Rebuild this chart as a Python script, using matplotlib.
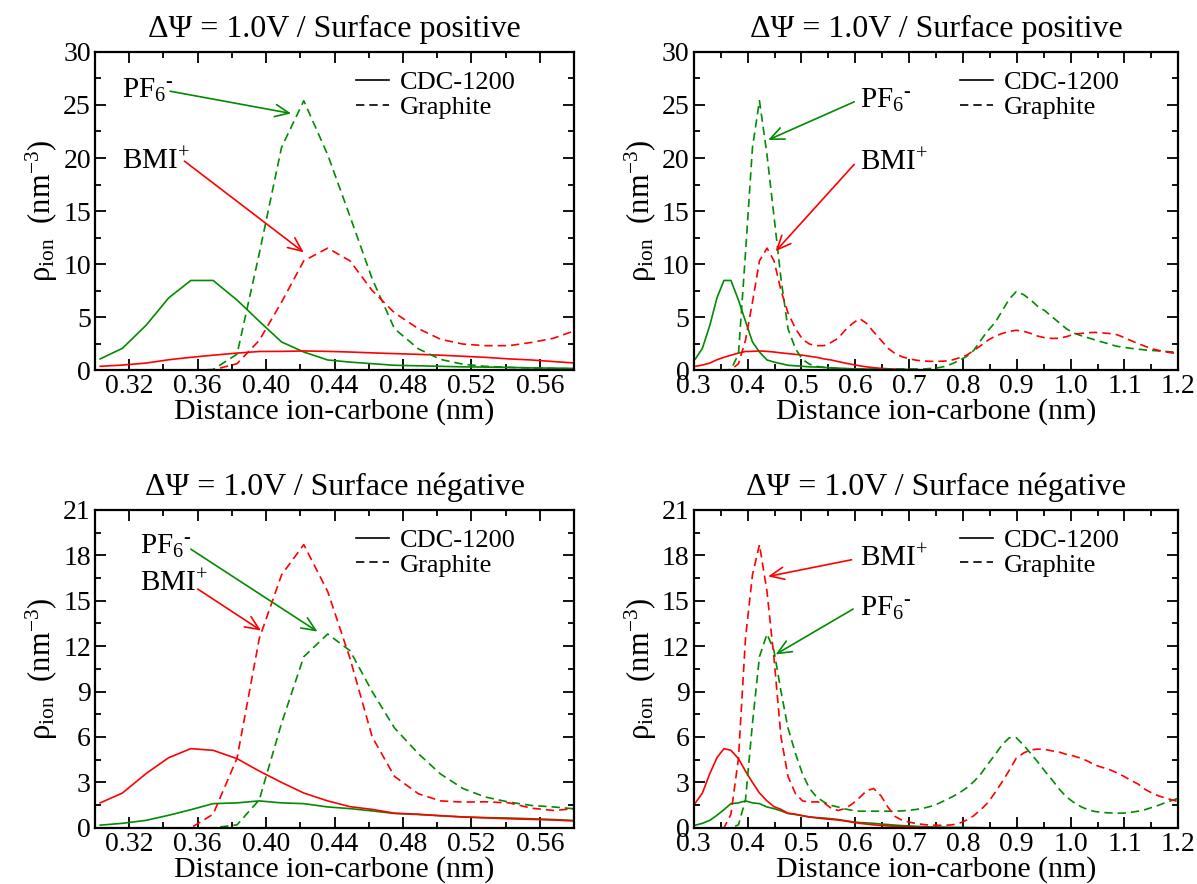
import matplotlib
matplotlib.use('Agg')
import matplotlib.pyplot as plt
from matplotlib.lines import Line2D
from matplotlib.ticker import MultipleLocator, FormatStrFormatter

plt.rcParams['font.family'] = ['Liberation Serif', 'DejaVu Serif']
plt.rcParams['mathtext.fontset'] = 'custom'
plt.rcParams['mathtext.rm'] = 'Liberation Serif'
plt.rcParams['mathtext.it'] = 'Liberation Serif:italic'
plt.rcParams['mathtext.bf'] = 'Liberation Serif:bold'

# distance grid (nm), shared by every profile
dist = [0.303, 0.316, 0.330, 0.343, 0.356, 0.369, 0.383, 0.396, 0.409, 0.422,
        0.436, 0.449, 0.462, 0.475, 0.489, 0.502, 0.515, 0.528, 0.542, 0.555,
        0.568, 0.581, 0.595, 0.608, 0.621, 0.634, 0.648, 0.661, 0.674, 0.687,
        0.701, 0.714, 0.727, 0.740, 0.754, 0.767, 0.780, 0.793, 0.807, 0.820,
        0.833, 0.846, 0.860, 0.873, 0.886, 0.899, 0.913, 0.926, 0.939, 0.952,
        0.966, 0.979, 0.992, 1.005, 1.019, 1.032, 1.045, 1.058, 1.072, 1.085,
        1.098, 1.111, 1.125, 1.138, 1.151, 1.164, 1.178, 1.191, 1.204]

# positive surface
pos_cdc_pf6 = [1.05, 2.05, 4.25, 6.8, 8.45, 8.45, 6.6, 4.6, 2.65, 1.7,
               0.95, 0.75, 0.6, 0.45, 0.4, 0.35, 0.3, 0.28, 0.25, 0.2,
               0.18, 0.15, 0.12, 0.1, 0.09, 0.08, 0.07, 0.06, 0.05, 0.04,
               0.03, 0.03, 0.02, 0.02, 0.01, 0.01, 0.01, 0.0, 0.0, 0.0,
               0, 0, 0, 0, 0, 0, 0, 0, 0, 0,
               0, 0, 0, 0, 0, 0, 0, 0, 0, 0,
               0, 0, 0, 0, 0, 0, 0, 0, 0]
pos_cdc_bmi = [0.35, 0.47, 0.66, 0.97, 1.2, 1.4, 1.6, 1.75, 1.76, 1.8,
               1.76, 1.7, 1.62, 1.55, 1.48, 1.4, 1.3, 1.2, 1.05, 0.95,
               0.8, 0.66, 0.52, 0.4, 0.3, 0.22, 0.16, 0.12, 0.08, 0.06,
               0.04, 0.03, 0.02, 0.02, 0.01, 0.01, 0, 0, 0, 0,
               0, 0, 0, 0, 0, 0, 0, 0, 0, 0,
               0, 0, 0, 0, 0, 0, 0, 0, 0, 0,
               0, 0, 0, 0, 0, 0, 0, 0, 0]
pos_gra_pf6 = [0, 0, 0, 0, 0, 0.05, 1.5, 11.0, 21.0, 25.4,
               20.3, 14.5, 8.6, 3.9, 2.0, 1.0, 0.55, 0.35, 0.25, 0.2,
               0.15, 0.12, 0.1, 0.1, 0.1, 0.1, 0.1, 0.1, 0.1, 0.1,
               0.1, 0.1, 0.1, 0.15, 0.22, 0.35, 0.6, 0.9, 1.3, 1.85,
               2.8, 3.7, 4.5, 5.6, 6.7, 7.4, 7.1, 6.6, 6.0, 5.6,
               5.0, 4.45, 3.9, 3.5, 3.25, 3.05, 2.85, 2.65, 2.45, 2.25,
               2.15, 2.05, 1.97, 1.9, 1.85, 1.8, 1.75, 1.7, 1.7]
pos_gra_bmi = [0, 0, 0, 0, 0, 0.02, 0.6, 2.8, 6.4, 10.3,
               11.5, 10.3, 7.5, 5.4, 3.9, 2.9, 2.45, 2.3, 2.3, 2.6,
               3.0, 3.75, 4.4, 4.85, 4.4, 3.6, 2.8, 2.05, 1.55, 1.25,
               1.05, 0.92, 0.85, 0.82, 0.82, 0.85, 0.95, 1.15, 1.4, 1.85,
               2.3, 2.8, 3.2, 3.45, 3.65, 3.75, 3.65, 3.45, 3.2, 3.05,
               2.98, 3.0, 3.15, 3.35, 3.45, 3.52, 3.55, 3.5, 3.45, 3.35,
               3.1, 2.8, 2.5, 2.25, 2.0, 1.85, 1.7, 1.6, 1.5]

# negative surface
neg_cdc_pf6 = [0.18, 0.3, 0.5, 0.83, 1.2, 1.6, 1.65, 1.78, 1.65, 1.6,
               1.38, 1.27, 1.12, 0.95, 0.88, 0.8, 0.72, 0.68, 0.65, 0.6,
               0.55, 0.48, 0.4, 0.35, 0.33, 0.3, 0.25, 0.22, 0.18, 0.15,
               0.13, 0.1, 0.08, 0.06, 0.05, 0.04, 0.03, 0.03, 0.02, 0.02,
               0.01, 0, 0, 0, 0, 0, 0, 0, 0, 0,
               0, 0, 0, 0, 0, 0, 0, 0, 0, 0,
               0, 0, 0, 0, 0, 0, 0, 0, 0]
neg_cdc_bmi = [1.65, 2.3, 3.6, 4.63, 5.23, 5.12, 4.57, 3.75, 3.0, 2.3,
               1.78, 1.4, 1.22, 0.97, 0.9, 0.8, 0.72, 0.66, 0.6, 0.56,
               0.52, 0.45, 0.37, 0.3, 0.25, 0.2, 0.16, 0.13, 0.1, 0.09,
               0.07, 0.05, 0.04, 0.03, 0.02, 0.01, 0, 0, 0, 0,
               0, 0, 0, 0, 0, 0, 0, 0, 0, 0,
               0, 0, 0, 0, 0, 0, 0, 0, 0, 0,
               0, 0, 0, 0, 0, 0, 0, 0, 0]
neg_gra_pf6 = [0, 0, 0, 0, 0, 0, 0.2, 1.85, 6.9, 11.3,
               12.8, 11.7, 9.0, 6.6, 4.9, 3.55, 2.6, 2.04, 1.7, 1.48,
               1.38, 1.25, 1.15, 1.1, 1.1, 1.1, 1.1, 1.1, 1.1, 1.12,
               1.17, 1.22, 1.3, 1.42, 1.6, 1.82, 2.05, 2.3, 2.65, 3.05,
               3.55, 4.2, 4.85, 5.5, 5.95, 5.95, 5.45, 4.9, 4.35, 3.75,
               3.15, 2.55, 2.05, 1.7, 1.4, 1.2, 1.08, 1.02, 0.99, 0.97,
               0.97, 1.02, 1.1, 1.2, 1.35, 1.5, 1.7, 1.85, 2.0]
neg_gra_bmi = [0, 0, 0, 0, 0, 0.9, 4.6, 12.5, 16.7, 18.7,
               15.6, 11.2, 6.0, 3.4, 2.25, 1.78, 1.7, 1.72, 1.65, 1.3,
               1.15, 1.27, 1.6, 2.0, 2.45, 2.6, 2.1, 1.35, 0.75, 0.5,
               0.37, 0.28, 0.22, 0.18, 0.17, 0.17, 0.2, 0.3, 0.52, 0.8,
               1.2, 1.65, 2.35, 3.05, 3.8, 4.6, 4.95, 5.15, 5.2, 5.18,
               5.08, 5.0, 4.85, 4.75, 4.6, 4.4, 4.15, 4.0, 3.85, 3.65,
               3.42, 3.15, 2.9, 2.55, 2.3, 2.1, 1.95, 1.82, 1.7]

green = '#008b00'
red = '#ff0000'
dash = (0, (5, 3))

fig = plt.figure(figsize=(11.97, 8.84), dpi=100)

panels = [
    # rect, surface, series, xlim, ymax, ymajor, xmajor, fmt, arrows
    ([0.0794, 0.5814, 0.4002, 0.3598], 'positive',
     (pos_cdc_pf6, pos_cdc_bmi, pos_gra_pf6, pos_gra_bmi), (0.30, 0.58), 30, 5, 0.04, '%.2f',
     [('pf6', (0.316, 25.7), (0.3439, 26.3), (0.4146, 24.2)),
      ('bmi', (0.316, 18.9), (0.3523, 19.7), (0.422, 11.1))]),
    ([0.5796, 0.5814, 0.4048, 0.3598], 'positive',
     (pos_cdc_pf6, pos_cdc_bmi, pos_gra_pf6, pos_gra_bmi), (0.3, 1.2), 30, 5, 0.1, '%.1f',
     [('pf6', (0.609, 24.7), (0.598, 25.3), (0.438, 21.7)),
      ('bmi', (0.609, 18.8), (0.598, 19.4), (0.452, 11.2))]),
    ([0.0794, 0.0635, 0.4002, 0.3598], 'négative',
     (neg_cdc_pf6, neg_cdc_bmi, neg_gra_pf6, neg_gra_bmi), (0.30, 0.58), 21, 3, 0.04, '%.2f',
     [('pf6', (0.326, 18.1), (0.356, 18.4), (0.430, 12.96)),
      ('bmi', (0.326, 15.6), (0.360, 15.77), (0.397, 13.03))]),
    ([0.5796, 0.0635, 0.4048, 0.3598], 'négative',
     (neg_cdc_pf6, neg_cdc_bmi, neg_gra_pf6, neg_gra_bmi), (0.3, 1.2), 21, 3, 0.1, '%.1f',
     [('bmi', (0.609, 17.3), (0.593, 17.7), (0.438, 16.6)),
      ('pf6', (0.609, 14.0), (0.596, 14.45), (0.452, 11.45))]),
]

labels = {'pf6': r'PF$_6{}^{\text{-}}$', 'bmi': r'BMI$^{+}$'}
colors = {'pf6': green, 'bmi': red}

for rect, surf, series, xlim, ymax, ymajor, xmajor, fmt, arrows in panels:
    ax = fig.add_axes(rect)
    cdc_pf6, cdc_bmi, gra_pf6, gra_bmi = series
    ax.plot(dist, cdc_pf6, color=green, lw=1.2)
    ax.plot(dist, cdc_bmi, color=red, lw=1.2)
    ax.plot(dist, gra_pf6, color=green, lw=1.2, linestyle=dash)
    ax.plot(dist, gra_bmi, color=red, lw=1.2, linestyle=dash)

    ax.set_xlim(*xlim)
    ax.set_ylim(0, ymax)
    ax.xaxis.set_major_locator(MultipleLocator(xmajor))
    ax.xaxis.set_minor_locator(MultipleLocator(xmajor / 2))
    ax.xaxis.set_major_formatter(FormatStrFormatter(fmt))
    ax.yaxis.set_major_locator(MultipleLocator(ymajor))
    ax.yaxis.set_minor_locator(MultipleLocator(ymajor / 2))
    ax.tick_params(which='both', direction='in', top=True, right=True, width=1.3, labelsize=20)
    ax.tick_params(which='major', length=8, pad=3)
    ax.tick_params(which='minor', length=4)
    for s in ax.spines.values():
        s.set_linewidth(1.6)

    ax.set_title('ΔΨ = 1.0V / Surface ' + surf, fontsize=23, pad=11)
    ax.set_xlabel('Distance ion-carbone (nm)', fontsize=21.5, labelpad=-1)
    ax.set_ylabel(r'ρ$_{\mathrm{ion}}$  (nm$^{-3}$)', fontsize=22, labelpad=2)

    handles = [Line2D([], [], color='black', lw=1.2),
               Line2D([], [], color='black', lw=1.2, linestyle=dash)]
    ax.legend(handles, ['CDC-1200', 'Graphite'], loc='upper right', frameon=False,
              fontsize=19, handlelength=1.25, handletextpad=0.4, labelspacing=0.05,
              borderaxespad=0, bbox_to_anchor=(0.9, 0.975))

    for key, txt_pos, start, end in arrows:
        ax.text(txt_pos[0], txt_pos[1], labels[key], fontsize=21, ha='left', va='baseline')
        ax.annotate('', xy=end, xytext=start,
                    arrowprops=dict(arrowstyle='->,head_length=0.5,head_width=0.22',
                                    color=colors[key], lw=1.2, shrinkA=0, shrinkB=0,
                                    mutation_scale=20))

fig.savefig('out.png', dpi=100)
